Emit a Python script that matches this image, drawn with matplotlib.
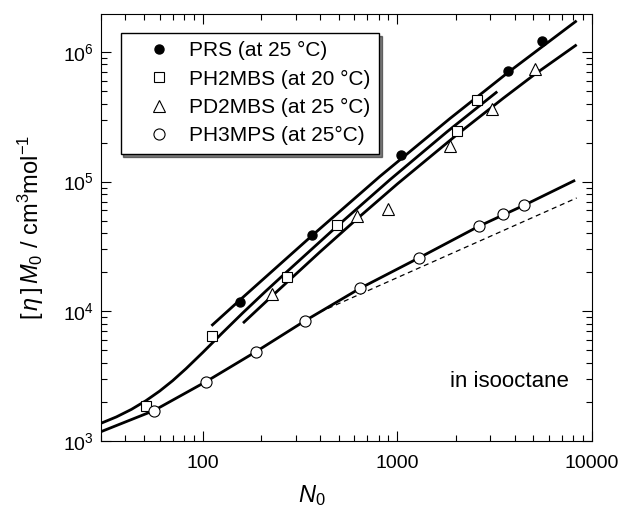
import matplotlib
matplotlib.use("Agg")
import matplotlib.pyplot as plt
from matplotlib.ticker import LogLocator, NullFormatter

plt.rcParams['font.family'] = ['Liberation Sans', 'DejaVu Sans']
plt.rcParams['mathtext.fontset'] = 'custom'
plt.rcParams['mathtext.rm'] = 'Liberation Sans'
plt.rcParams['mathtext.it'] = 'Liberation Sans:italic'
plt.rcParams['mathtext.bf'] = 'Liberation Sans:bold'

# ---- data points ----
prs_N = [156, 365, 1039, 3714, 5535]
prs_y = [11780, 39000, 161600, 711000, 1210000]

ph2_N = [51, 112, 271, 490, 2030, 2553]
ph2_y = [1863, 6470, 18460, 46250, 247600, 424600]

pd2_N = [226, 617, 897, 1862, 3064, 5090]
pd2_y = [13650, 53950, 61800, 187400, 359700, 741000]

ph3_N = [56, 104, 187, 337, 641, 1295, 2613, 3475, 4467]
ph3_y = [1714, 2870, 4866, 8490, 15000, 25880, 45160, 56640, 65600]

# ---- theoretical curves ----
prs_curve_N = [110.8, 156.2, 365, 813, 1862, 3712, 8340]
prs_curve_y = [7730, 12330, 38430, 109650, 306400, 696200, 1739000]

ph2_curve_N = [30, 36, 43, 51, 60, 70, 82, 100, 125, 160, 210, 270, 490, 915, 1800, 3260]
ph2_curve_y = [1370, 1534, 1753, 2044, 2424, 2916, 3610, 4814, 6727, 9672, 14230,
               20130, 45300, 103300, 242300, 494100]

pd2_curve_N = [161, 226, 400, 617, 1000, 2030, 3500, 5093, 8340]
pd2_curve_y = [8110, 13040, 28670, 51250, 96000, 231000, 439400, 673500, 1136000]

ph3_curve_N = [30, 56, 104, 187, 337, 641, 1295, 2613, 4467, 8190]
ph3_curve_y = [1180, 1714, 2870, 4866, 8490, 15000, 25880, 45160, 65600, 102400]

dash_N = [400, 8340]
dash_y = [9880, 74800]

x_ticks = [100, 1000, 10000]
x_tick_labels = ['100', '1000', '10000']
y_ticks = [1e3, 1e4, 1e5, 1e6]
y_tick_labels = [r'$10^3$', r'$10^4$', r'$10^5$', r'$10^6$']

legend_labels = ['PRS (at 25 °C)', 'PH2MBS (at 20 °C)', 'PD2MBS (at 25 °C)', 'PH3MPS (at 25°C)']

fig = plt.figure(figsize=(6.23, 5.16), dpi=100)
ax = fig.add_axes([101/623, 1-441/516, 491/623, 427/516])
ax.set_xscale('log')
ax.set_yscale('log')

lw = 2.0
for cN, cy in [(prs_curve_N, prs_curve_y), (ph2_curve_N, ph2_curve_y),
               (pd2_curve_N, pd2_curve_y), (ph3_curve_N, ph3_curve_y)]:
    ax.plot(cN, cy, color='black', lw=lw, solid_capstyle='butt',
            solid_joinstyle='round', zorder=2)
ax.plot(dash_N, dash_y, color='black', lw=0.9, ls=(0, (4, 3)), zorder=2)

ax.plot(prs_N, prs_y, 'o', ms=6.5, mfc='black', mec='black', ls='none',
        label=legend_labels[0], zorder=3)
ax.plot(ph2_N, ph2_y, 's', ms=7, mfc='white', mec='black', mew=0.8, ls='none',
        label=legend_labels[1], zorder=3)
ax.plot(pd2_N, pd2_y, '^', ms=8, mfc='white', mec='black', mew=0.8, ls='none',
        label=legend_labels[2], zorder=3)
ax.plot(ph3_N, ph3_y, 'o', ms=8, mfc='white', mec='black', mew=0.8, ls='none',
        label=legend_labels[3], zorder=3)

ax.set_xlim(30, 10000)
ax.set_ylim(1e3, 1.96e6)

ax.set_xticks(x_ticks)
ax.set_xticklabels(x_tick_labels)
ax.set_yticks(y_ticks)
ax.set_yticklabels(y_tick_labels)
ax.xaxis.set_minor_locator(LogLocator(base=10, subs=range(2, 10), numticks=20))
ax.yaxis.set_minor_locator(LogLocator(base=10, subs=range(2, 10), numticks=20))
ax.xaxis.set_minor_formatter(NullFormatter())
ax.yaxis.set_minor_formatter(NullFormatter())

ax.tick_params(which='both', direction='in', top=True, right=True, width=0.8, labelsize=14)
ax.tick_params(which='major', length=7)
ax.tick_params(which='minor', length=4)
ax.tick_params(axis='x', which='major', pad=10)
ax.tick_params(axis='y', which='major', pad=5)
for s in ax.spines.values():
    s.set_linewidth(0.8)

ax.set_xlabel(r'$N_0$', fontsize=17, x=0.43, labelpad=8)
ax.set_ylabel(r'$[\,\eta\,]\,M_0$ / cm$^3$mol$^{-1}$', fontsize=17, labelpad=12)

ax.text(0.831, 0.140, 'in isooctane', transform=ax.transAxes, fontsize=16,
        ha='center', va='center')

leg = ax.legend(loc='upper left', bbox_to_anchor=(0.040, 0.956), borderaxespad=0,
                fontsize=15, frameon=True, fancybox=False,
                shadow={'color': 'black'}, handletextpad=0.05,
                labelspacing=0.45, borderpad=0.4, handlelength=2.85)
leg.get_frame().set_edgecolor('black')
leg.get_frame().set_linewidth(1.0)
leg.get_frame().set_facecolor('white')
leg.get_frame().set_alpha(1)

fig.savefig('out.png', dpi=100)
